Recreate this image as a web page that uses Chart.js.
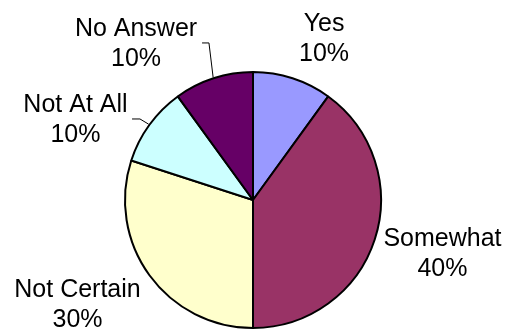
<!DOCTYPE html>
<html>
<head>
<meta charset="utf-8">
<script src="https://cdn.jsdelivr.net/npm/chart.js@4.4.1/dist/chart.umd.min.js"></script>
<style>
  html, body { margin: 0; padding: 0; background: #ffffff; }
  #wrap { width: 508px; height: 331px; }
</style>
</head>
<body>
<div id="wrap"><canvas id="pie" width="508" height="331"></canvas></div>
<script>
// Survey answers, in clockwise order from 12 o'clock
const categories = ['Yes', 'Somewhat', 'Not Certain', 'Not At All', 'No Answer'];
const shares = [10, 40, 30, 10, 10];
const sliceColors = ['#9999FF', '#993366', '#FFFFCC', '#CCFFFF', '#660066'];

// Label placement, in units of the pie radius from its centre
// (x of the text centre, y of the first line's cap centre)
const labelSpots = [
  [0.555, -1.393],
  [1.480, 0.289],
  [-1.371, 0.691],
  [-1.387, -0.758],
  [-0.914, -1.352]
];
// Leader lines: elbow and end point in radius units (null = no leader)
const leaders = [
  null,
  null,
  null,
  [[-0.883, -0.633], [-0.945, -0.633]],
  [[-0.344, -1.227], [-0.398, -1.227]]
];

const FONT_PX = 25;
const LINE_GAP = 30;

const pieLabels = {
  id: 'pieLabels',
  afterDatasetsDraw(chart) {
    const ctx = chart.ctx;
    const arcs = chart.getDatasetMeta(0).data;
    const total = shares.reduce((a, b) => a + b, 0);
    ctx.save();
    ctx.font = FONT_PX + 'px "Liberation Sans", Arial, sans-serif';
    ctx.fillStyle = '#000000';
    ctx.textAlign = 'center';
    ctx.textBaseline = 'alphabetic';
    const capHalf = FONT_PX * 0.716 / 2;
    arcs.forEach((arc, i) => {
      const cx = arc.x, cy = arc.y, r = arc.outerRadius;
      const lead = leaders[i];
      if (lead) {
        const mid = (arc.startAngle + arc.endAngle) / 2;
        ctx.beginPath();
        ctx.strokeStyle = '#000000';
        ctx.lineWidth = 1;
        ctx.moveTo(cx + Math.cos(mid) * (r + 1), cy + Math.sin(mid) * (r + 1));
        ctx.lineTo(cx + lead[0][0] * r, cy + lead[0][1] * r);
        ctx.lineTo(cx + lead[1][0] * r, cy + lead[1][1] * r);
        ctx.stroke();
      }
      const pct = Math.round(shares[i] / total * 100) + '%';
      const tx = cx + labelSpots[i][0] * r;
      const ty = cy + labelSpots[i][1] * r + capHalf;
      ctx.fillText(categories[i], tx, ty);
      ctx.fillText(pct, tx, ty + LINE_GAP);
    });
    ctx.restore();
  }
};

new Chart(document.getElementById('pie'), {
  type: 'pie',
  data: {
    labels: categories,
    datasets: [{
      data: shares,
      backgroundColor: sliceColors,
      borderColor: '#000000',
      borderWidth: 2,
      hoverBorderWidth: 2
    }]
  },
  options: {
    responsive: false,
    animation: false,
    events: [],
    layout: { padding: { left: 124, right: 126, top: 71, bottom: 2 } },
    plugins: {
      legend: { display: false },
      tooltip: { enabled: false }
    }
  },
  plugins: [pieLabels]
});
</script>
</body>
</html>
